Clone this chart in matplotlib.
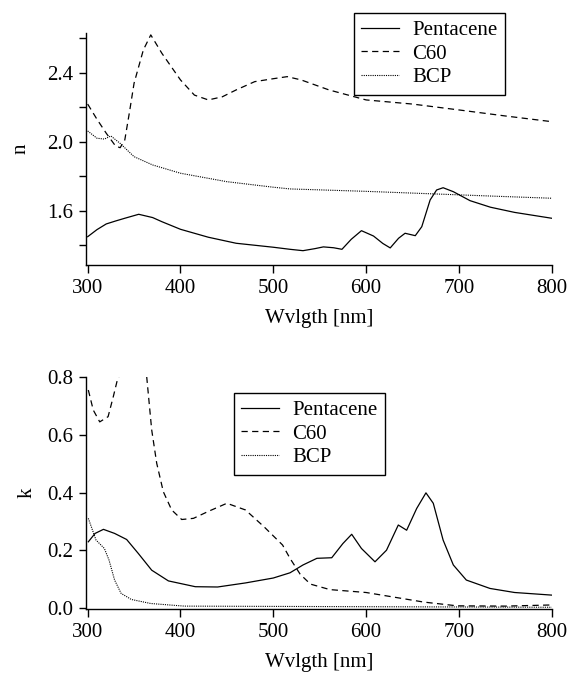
import matplotlib
matplotlib.use("Agg")
import matplotlib.pyplot as plt

plt.rcParams["font.family"] = ["Liberation Serif", "DejaVu Serif"]
plt.rcParams["font.size"] = 15

# refractive index n
n_pent_wl = [300, 310, 320, 330, 340, 355, 370, 380, 400, 430, 460, 500, 518, 532, 545,
             554, 565, 574, 584, 595, 608, 618, 626, 635, 642, 653, 660, 669, 676, 683,
             694, 712, 734, 760, 800]
n_pent = [1.449, 1.49, 1.523, 1.54, 1.556, 1.579, 1.56, 1.536, 1.492, 1.446, 1.411, 1.388,
          1.376, 1.368, 1.38, 1.390, 1.385, 1.376, 1.434, 1.484, 1.453, 1.41, 1.384, 1.440,
          1.469, 1.455, 1.507, 1.662, 1.720, 1.733, 1.710, 1.658, 1.620, 1.59, 1.556]

n_c60_wl = [300, 310, 320, 330, 335, 340, 345, 350, 360, 368, 380, 400, 415, 430, 445,
            460, 480, 500, 515, 530, 560, 600, 650, 700, 750, 800]
n_c60 = [2.218, 2.13, 2.049, 1.975, 1.965, 2.01, 2.17, 2.339, 2.532, 2.619, 2.512, 2.358,
         2.27, 2.242, 2.26, 2.30, 2.348, 2.365, 2.377, 2.358, 2.30, 2.242, 2.218, 2.184,
         2.149, 2.116]

n_bcp_wl = [300, 310, 318, 325, 335, 350, 370, 400, 450, 500, 518, 600, 733, 800]
n_bcp = [2.062, 2.02, 2.015, 2.033, 1.99, 1.913, 1.865, 1.817, 1.768, 1.736, 1.726, 1.712,
         1.685, 1.672]

# extinction coefficient k
k_pent_wl = [300.7, 308, 317, 329, 342, 354.5, 369, 387, 416, 440, 470, 500, 518, 532,
             547, 563, 575, 584.5, 595, 609.6, 622, 634.7, 643.7, 654.5, 664.5, 672.4,
             683, 694, 708, 733.5, 760, 800]
k_pent = [0.230, 0.259, 0.273, 0.259, 0.238, 0.190, 0.132, 0.095, 0.075, 0.074, 0.088,
          0.105, 0.123, 0.150, 0.173, 0.175, 0.224, 0.256, 0.207, 0.161, 0.201, 0.288,
          0.270, 0.345, 0.399, 0.363, 0.236, 0.150, 0.098, 0.069, 0.055, 0.046]

k_c60_wl_a = [300.7, 306, 313, 322, 327.6, 332, 333.5]
k_c60_a = [0.754, 0.685, 0.644, 0.662, 0.731, 0.789, 0.80]
k_c60_wl_b = [363.6, 369, 374.4, 381.5, 390.5, 401.3, 414, 430, 450, 470, 490, 510, 518,
              529, 540, 561, 600, 662, 698, 750, 800]
k_c60_b = [0.80, 0.616, 0.501, 0.403, 0.340, 0.307, 0.311, 0.335, 0.363, 0.34, 0.282,
           0.219, 0.173, 0.118, 0.084, 0.065, 0.055, 0.022, 0.009, 0.008, 0.012]

k_bcp_wl = [300.7, 309, 318, 323, 329, 336, 347, 368, 404, 500, 600, 700, 800]
k_bcp = [0.311, 0.236, 0.207, 0.167, 0.098, 0.052, 0.031, 0.017, 0.008, 0.007, 0.006,
         0.005, 0.004]

labels = ["Pentacene", "C60", "BCP"]
dash = (0, (5, 3.5))
dot = (0, (1, 1))

W, H = 571, 682
fig = plt.figure(figsize=(W / 100, H / 100), dpi=100)
ax1 = fig.add_axes([86 / W, 1 - 265 / H, 465.7 / W, 232 / H])
ax2 = fig.add_axes([86 / W, 1 - 609.3 / H, 465.7 / W, 232.6 / H])

ax1.plot(n_pent_wl, n_pent, color="black", lw=0.9, label=labels[0])
ax1.plot(n_c60_wl, n_c60, color="black", lw=0.9, linestyle=dash, label=labels[1])
ax1.plot(n_bcp_wl, n_bcp, color="black", lw=0.8, linestyle=dot, label=labels[2])
ax1.set_ylim(1.285, 2.63)
ax1.set_yticks([1.6, 2.0, 2.4])
ax1.set_yticks([1.4, 1.8, 2.2, 2.6], minor=True)
ax1.set_ylabel("n", labelpad=12)

ax2.plot(k_pent_wl, k_pent, color="black", lw=0.9, label=labels[0])
ax2.plot(k_c60_wl_a, k_c60_a, color="black", lw=0.9, linestyle=dash, label=labels[1])
ax2.plot(k_c60_wl_b, k_c60_b, color="black", lw=0.9, linestyle=dash)
ax2.plot(k_bcp_wl, k_bcp, color="black", lw=0.8, linestyle=dot, label=labels[2])
ax2.set_ylim(-0.003, 0.8)
ax2.set_yticks([0.0, 0.2, 0.4, 0.6, 0.8])
ax2.set_ylabel("k", labelpad=8)

for ax in (ax1, ax2):
    ax.set_xlim(298.2, 800)
    ax.set_xticks([300, 400, 500, 600, 700, 800])
    ax.set_xlabel("Wvlgth [nm]", labelpad=8)
    ax.spines["top"].set_visible(False)
    ax.spines["right"].set_visible(False)
    for s in ("left", "bottom"):
        ax.spines[s].set_linewidth(1.0)
    ax.tick_params(which="both", direction="out", length=5, width=1.0, pad=4)
    ax.tick_params(axis="x", length=6)
    ax.yaxis.set_major_formatter(matplotlib.ticker.FormatStrFormatter("%.1f"))

leg_kw = dict(loc="upper left", fontsize=15, frameon=True, fancybox=False,
              edgecolor="black", framealpha=1, borderaxespad=0, handlelength=1.8,
              handletextpad=0.65, labelspacing=0.2, borderpad=0.35,
              bbox_transform=fig.transFigure)
l1 = ax1.legend(bbox_to_anchor=(354 / W, 1 - 13 / H), **leg_kw)
l2 = ax2.legend(bbox_to_anchor=(234 / W, 1 - 393 / H), **leg_kw)
for l in (l1, l2):
    l.get_frame().set_linewidth(1.0)

fig.savefig("out.png", dpi=100)
